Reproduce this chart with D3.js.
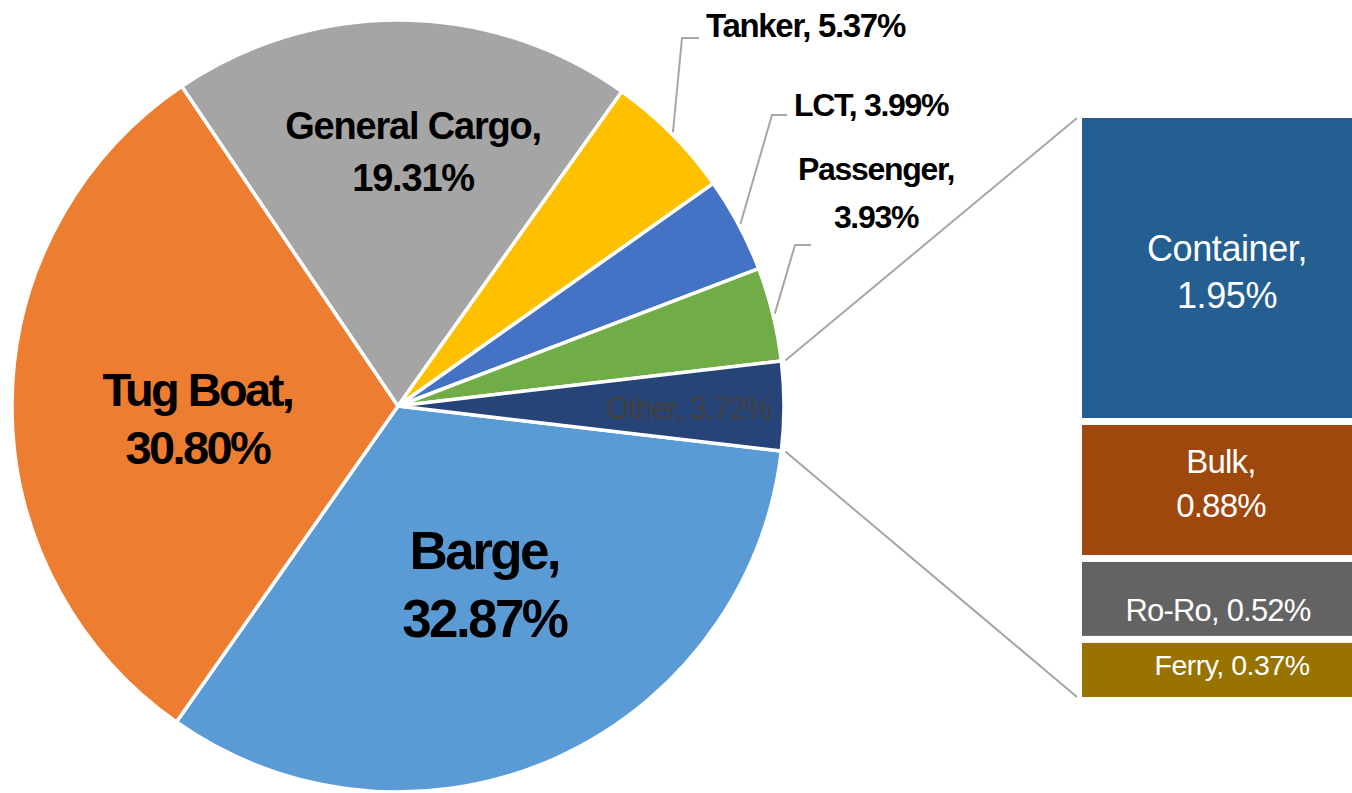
<!DOCTYPE html>
<html>
<head>
<meta charset="utf-8">
<script src="https://cdn.jsdelivr.net/npm/d3@7"></script>
<style>
body { margin: 0; background: #fff; overflow: hidden; }
svg { display: block; font-family: "Liberation Sans", Arial, Helvetica, sans-serif; }
</style>
</head>
<body>
<div id="chart"></div>
<script>
// values (share of vessels, %)
var categories = ["Barge", "Tug Boat", "General Cargo", "Tanker", "LCT", "Passenger", "Other"];
var shares = [32.87, 30.80, 19.31, 5.37, 3.99, 3.93, 3.72];
var otherTypes = ["Container", "Bulk", "Ro-Ro", "Ferry"];
var otherShares = [1.95, 0.88, 0.52, 0.37];

var pieColors = ["#5B9BD5", "#ED7D31", "#A5A5A5", "#FFC000", "#4472C4", "#70AD47", "#264478"];
var barColors = ["#255E91", "#9E480E", "#636363", "#997300"];

var svgWidth = 1352, svgHeight = 793;
var cx = 398, cy = 406, radius = 386;

// label placement, one entry per slice / bar (null = leader label)
var pieLabelLayout = [
    {r: 0.515, dx: 5, dy: -3, size: 53, ls: -2.6, lh: 68, wrap: true, weight: "bold", fill: "#000"},
    {r: 0.52, dx: 0, dy: 14, size: 47, ls: -2.6, lh: 58, wrap: true, weight: "bold", fill: "#000"},
    {r: 0.66, dx: 12, dy: 0, size: 38, ls: -1.2, lh: 52, wrap: true, weight: "bold", fill: "#000"},
    null, null, null,
    {r: 0.75, dx: 1, dy: 2, size: 31, ls: -1.3, lh: 0, wrap: false, weight: "normal", fill: "#404040"}
];
// leader labels: elbow, end of line, text anchor point
var leaderLayout = {
    3: {elbow: [682, 38], end: [699, 38], tx: 706, ty: 37, anchor: "start", wrap: false, size: 33},
    4: {elbow: [772, 115], end: [787, 115], tx: 794, ty: 116, anchor: "start", wrap: false, size: 32},
    5: {elbow: [795, 245], end: [811, 245], tx: 876, ty: 180, anchor: "middle", wrap: true, lh: 48, size: 32}
};
var barLabelLayout = [
    {size: 36, ls: -0.4, lh: 47, dx: 2, dy: 2, wrap: true},
    {size: 33, ls: -0.8, lh: 44, dx: -4, dy: -7, wrap: true},
    {size: 31, ls: -0.8, lh: 0, dx: -7, dy: 11, wrap: false},
    {size: 28.5, ls: -0.5, lh: 0, dx: 7, dy: -3, wrap: false}
];

var svg = d3.select("#chart")
    .append("svg")
    .attr("width", svgWidth)
    .attr("height", svgHeight);

// "Other" slice is centred on 3 o'clock, like a pie-of-bar
var startAngle = (Math.PI / 2) + (shares[6] / d3.sum(shares)) * Math.PI;
var pie = d3.pie().sort(null).startAngle(startAngle).endAngle(startAngle + 2 * Math.PI);
var arcs = pie(shares);

var arc = d3.arc().innerRadius(0).outerRadius(radius);
var g = svg.append("g").attr("transform", `translate(${cx}, ${cy})`);

g.selectAll("path")
    .data(arcs)
    .enter()
    .append("path")
    .attr("d", arc)
    .attr("fill", (d, i) => pieColors[i])
    .attr("stroke", "#fff")
    .attr("stroke-width", 3.5)
    .attr("stroke-linejoin", "round");

function polar(angle, r) {
    return [cx + r * Math.sin(angle), cy - r * Math.cos(angle)];
}
function fmt(v) { return v.toFixed(2) + "%"; }

// multi-line text centred on (x, y)
function addLabel(x, y, lines, o, anchor) {
    var t = svg.append("text")
        .attr("text-anchor", anchor || "middle")
        .attr("font-size", o.size)
        .attr("font-weight", o.weight || "normal")
        .attr("letter-spacing", o.ls)
        .attr("fill", o.fill);
    lines.forEach(function(line, k) {
        var lc = y + (k - (lines.length - 1) / 2) * o.lh;
        t.append("tspan")
            .attr("x", x)
            .attr("y", lc + 0.36 * o.size)
            .text(line);
    });
}

// inside labels
arcs.forEach(function(d, i) {
    var o = pieLabelLayout[i];
    if (!o) return;
    var mid = (d.startAngle + d.endAngle) / 2;
    var p = polar(mid, o.r * radius);
    var lines = o.wrap ? [categories[i] + ",", fmt(shares[i])] : [categories[i] + ", " + fmt(shares[i])];
    addLabel(p[0] + o.dx, p[1] + o.dy, lines, o);
});

// leader-line labels
var lineColor = "#A6A6A6";
Object.keys(leaderLayout).forEach(function(key) {
    var i = +key, o = leaderLayout[key], d = arcs[i];
    var mid = (d.startAngle + d.endAngle) / 2;
    var p0 = polar(mid, radius + 2);
    svg.append("path")
        .attr("d", d3.line()([p0, o.elbow, o.end]))
        .attr("fill", "none")
        .attr("stroke", lineColor)
        .attr("stroke-width", 2);
    var t = svg.append("text")
        .attr("text-anchor", o.anchor)
        .attr("font-size", o.size)
        .attr("font-weight", "bold")
        .attr("letter-spacing", -1.3)
        .attr("fill", "#000");
    var lines = o.wrap ? [categories[i] + ",", fmt(shares[i])] : [categories[i] + ", " + fmt(shares[i])];
    lines.forEach(function(line, k) {
        t.append("tspan")
            .attr("x", o.tx)
            .attr("y", o.ty + k * (o.lh || 0))
            .text(line);
    });
});

// bar for the "Other" breakdown
var barX = 1082, barW = 290, gap = 7;
var yBar = d3.scaleLinear()
    .domain([0, d3.sum(otherShares)])
    .range([118, 697]);
var cum = d3.cumsum(otherShares);
var stack = otherShares.map((v, i) => ({v: v, y0: i ? cum[i - 1] : 0, y1: cum[i], i: i}));

svg.selectAll("rect.part")
    .data(stack)
    .enter()
    .append("rect")
    .attr("class", "part")
    .attr("x", barX)
    .attr("width", barW)
    .attr("y", d => yBar(d.y0) + (d.i > 0 ? gap / 2 : 0))
    .attr("height", d => yBar(d.y1) - yBar(d.y0) - (d.i > 0 ? gap / 2 : 0) - (d.i < stack.length - 1 ? gap / 2 : 0))
    .attr("fill", d => barColors[d.i]);

stack.forEach(function(d) {
    var o = barLabelLayout[d.i];
    var lines = o.wrap ? [otherTypes[d.i] + ",", fmt(d.v)] : [otherTypes[d.i] + ", " + fmt(d.v)];
    var my = (yBar(d.y0) + yBar(d.y1)) / 2;
    addLabel(1225 + o.dx, my + o.dy, lines, {size: o.size, ls: o.ls, lh: o.lh, fill: "#fff"});
});

// connector lines from the "Other" slice to the bar
var other = arcs[6];
[[other.startAngle, yBar(0)], [other.endAngle, yBar(d3.sum(otherShares))]].forEach(function(c) {
    var p = polar(c[0], radius + 4);
    svg.append("line")
        .attr("x1", p[0]).attr("y1", p[1])
        .attr("x2", barX - 5).attr("y2", c[1])
        .attr("stroke", lineColor)
        .attr("stroke-width", 2);
});
</script>
</body>
</html>
